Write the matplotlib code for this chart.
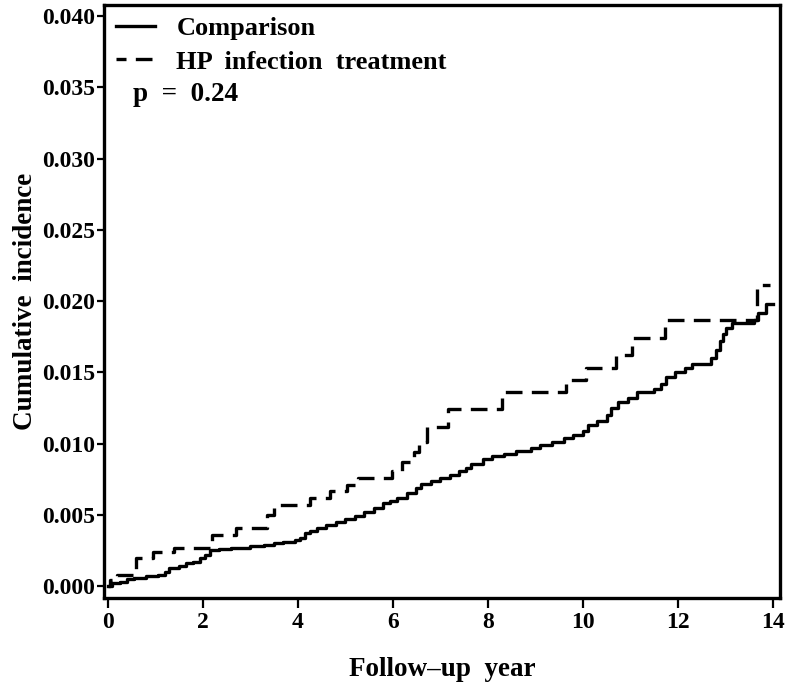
import numpy as np
import matplotlib
matplotlib.use("Agg")
import matplotlib.pyplot as plt

plt.rcParams['font.family'] = ['Liberation Serif', 'DejaVu Serif']
plt.rcParams['font.weight'] = 'bold'

# Comparison group: event times (years) and cumulative incidence after each step
comp_time = [0.0, 0.1, 0.25, 0.4, 0.55, 0.8, 1.05, 1.2, 1.3, 1.5, 1.65, 1.8, 1.95,
             2.05, 2.15, 2.35, 2.6, 3.0, 3.3, 3.5, 3.7, 3.95, 4.05, 4.15, 4.25,
             4.4, 4.6, 4.8, 5.0, 5.2, 5.4, 5.6, 5.8, 5.95, 6.1, 6.3, 6.5, 6.6,
             6.8, 7.0, 7.2, 7.4, 7.55, 7.65, 7.9, 8.1, 8.35, 8.6, 8.9, 9.1, 9.35,
             9.6, 9.8, 10.0, 10.1, 10.3, 10.5, 10.6, 10.75, 10.95, 11.15, 11.5,
             11.65, 11.75, 11.95, 12.15, 12.3, 12.7, 12.8, 12.88, 12.95, 13.02,
             13.15, 13.6, 13.68, 13.85, 14.0]
comp_cum = [0.0, 0.0002, 0.0003, 0.0005, 0.0006, 0.0007, 0.0008, 0.0010, 0.0013,
            0.0014, 0.0016, 0.0017, 0.0020, 0.0022, 0.0025, 0.0026, 0.0027,
            0.0028, 0.0029, 0.0030, 0.0031, 0.0032, 0.0034, 0.0037, 0.0039,
            0.0041, 0.0043, 0.0045, 0.0047, 0.0049, 0.0052, 0.0055, 0.0058,
            0.0060, 0.0062, 0.0065, 0.0069, 0.0072, 0.0074, 0.0076, 0.0078,
            0.0081, 0.0083, 0.0086, 0.0089, 0.0091, 0.0093, 0.0095, 0.0097,
            0.0099, 0.0101, 0.0104, 0.0106, 0.0109, 0.0113, 0.0116, 0.0120,
            0.0125, 0.0129, 0.0132, 0.0136, 0.0138, 0.0142, 0.0147, 0.0150,
            0.0153, 0.0156, 0.0160, 0.0166, 0.0172, 0.0177, 0.0181, 0.0185,
            0.0187, 0.0192, 0.0198, 0.0198]

# HP infection treatment group
hp_time = [0.0, 0.05, 0.2, 0.6, 0.95, 1.4, 2.2, 2.7, 3.35, 3.5, 4.25, 4.67, 5.03,
           5.26, 5.98, 6.19, 6.45, 6.55, 6.72, 7.17, 8.3, 9.65, 10.06, 10.7,
           11.04, 11.73, 13.66, 13.94]
hp_cum = [0.0, 0.0004, 0.0008, 0.0020, 0.0024, 0.0027, 0.0036, 0.0041, 0.0050,
          0.0057, 0.0062, 0.0067, 0.0071, 0.0076, 0.0081, 0.0087, 0.0094, 0.0101,
          0.0112, 0.0124, 0.0136, 0.0145, 0.0153, 0.0162, 0.0174, 0.0187,
          0.0211, 0.0211]

x_ticks = list(range(0, 15, 2))
y_ticks = [0.000, 0.005, 0.010, 0.015, 0.020, 0.025, 0.030, 0.035, 0.040]

fig = plt.figure(figsize=(7.87, 6.89), dpi=100)
ax = fig.add_axes([0.132, 0.132, 0.859, 0.861])

ax.step(comp_time, comp_cum, where='post', color='black', lw=2.4,
        label='Comparison')
ax.step(hp_time, hp_cum, where='post', color='black', lw=2.4,
        ls=(2, (5, 2.8)), label='HP  infection  treatment')

ax.set_xlim(-0.08, 14.15)
ax.set_ylim(-0.00084, 0.0408)
ax.set_xticks(x_ticks)
ax.set_yticks(y_ticks)
ax.set_yticklabels([f"{v:.3f}" for v in y_ticks])

for s in ax.spines.values():
    s.set_linewidth(2.4)
ax.tick_params(axis='both', labelsize=17, width=1.6, length=5, pad=1.5,
               direction='out')
ax.tick_params(axis='x', length=7, pad=3)

ax.set_xlabel('Follow\u2013up  year', fontsize=19.5, fontweight='bold', labelpad=17)
ax.set_ylabel('Cumulative  incidence', fontsize=19.5, fontweight='bold', labelpad=3)

leg = ax.legend(loc='upper left', bbox_to_anchor=(0.0, 1.0), frameon=False,
                fontsize=19, handlelength=1.5, handletextpad=0.8,
                labelspacing=0.38, borderaxespad=0.0, borderpad=0.45)
ax.text(0.043, 0.848, 'p  =  0.24', transform=ax.transAxes, fontsize=19.5,
        fontweight='bold', va='center', ha='left')

fig.savefig('out.png', dpi=100)
